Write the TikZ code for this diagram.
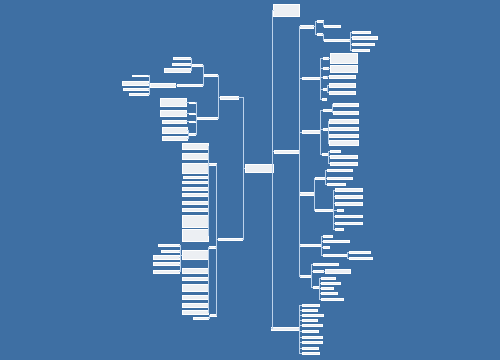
\documentclass[tikz,border=0pt]{standalone}
\definecolor{bgc}{RGB}{62,111,163}
\definecolor{lnc}{RGB}{188,210,235}
\definecolor{fillc}{RGB}{236,239,243}
\tikzset{
  box/.style={draw=white, line width=0.5pt, fill=fillc, inner sep=0pt, outer sep=0pt, anchor=north west, rectangle},
  conn/.style={draw=lnc, line width=0.8pt},
}
\newcommand\bx[5]{\pgfmathsetmacro\bw{#4-#2-0.5}\pgfmathsetmacro\bh{#5-#3-1.1}\node[box, minimum width=\bw pt, minimum height=\bh pt] (#1) at (#2+0.25,#3+0.55) {};}
\newcommand\rc[3]{\foreach \ch in {#3}{\draw[conn] (#1.east) -- ++(#2,0) |- (\ch.west);}}
\newcommand\lc[3]{\foreach \ch in {#3}{\draw[conn] (#1.west) -- ++(-#2,0) |- (\ch.east);}}
\begin{document}
\begin{tikzpicture}[x=1pt,y=-1pt]
\fill[bgc] (0,0) rectangle (500,360);
\useasboundingbox (0,0) rectangle (500,360);
% ---------- root
\bx{root}{245}{163.5}{273}{172.5}
% ---------- left side
\bx{L1}{220}{95.5}{238}{99.5}
\bx{L2}{218}{237.5}{242}{241}
\bx{C1}{204}{73.5}{217}{76.5}
\bx{C2}{197}{116.5}{217}{120}
\bx{B1}{192}{63.5}{202}{66.5}
\bx{X}{177}{83.5}{202}{86.5}
\bx{A1}{173}{56.5}{190}{59.5}
\bx{A2}{172}{63}{190}{66}
\bx{A3}{164}{68}{190}{73}
\bx{B3}{150}{82.5}{175}{87.5}
\bx{F1}{132}{74.5}{148}{77}
\bx{F2}{122}{80.5}{148}{85.5}
\bx{F3}{123}{88}{148}{91}
\bx{F4}{129}{92.5}{148}{95.5}
\bx{D1}{189}{101.5}{195}{104}
\bx{D2}{189}{112.5}{195}{115}
\bx{D3}{189}{120.5}{195}{123}
\bx{D4}{189}{133}{195}{135.5}
\bx{G1}{160}{97.5}{186}{107}
\bx{G2}{160}{110}{186}{117}
\bx{G3}{162}{119.5}{186}{124}
\bx{G4}{162}{127}{187}{133.5}
\bx{G5}{162}{135.5}{187}{140.5}
\bx{E1}{209}{162.5}{216}{165.5}
\bx{E2}{209}{246}{215}{249}
\bx{E3}{210}{313.5}{216}{316.5}
\bx{H1}{182}{142.5}{208}{150}
\bx{H2}{182}{152.5}{208}{160}
\bx{H3}{182}{162.5}{208}{173.5}
\bx{H4}{183}{175.5}{208}{178.5}
\bx{H5}{182}{180.5}{208}{184}
\bx{H6}{182}{186.5}{208}{191}
\bx{H7}{182}{193}{208}{197}
\bx{H8}{182}{200.5}{208}{205}
\bx{H9}{182}{207.5}{208}{212}
\bx{H10}{182}{214.5}{208}{227.5}
\bx{H11}{182}{229}{208}{242}
\bx{J1}{182}{250}{208}{260}
\bx{J2}{182}{268}{208}{273.5}
\bx{J3}{182}{276.5}{208}{281}
\bx{J4}{182}{284}{208}{292}
\bx{J5}{182}{294.5}{208}{300}
\bx{J6}{182}{303}{208}{307.5}
\bx{J7}{182}{310}{208}{314.5}
\bx{K1}{193}{316.5}{208}{319.5}
\bx{M1}{158}{244}{179}{247}
\bx{M2}{161}{249.5}{179}{252.5}
\bx{M3}{153}{254.5}{179}{259.5}
\bx{M4}{153}{262}{179}{266}
\bx{M5}{153}{269.5}{179}{273.5}
% ---------- right side
\bx{T0}{273}{4}{299}{17}
\bx{Rm}{274}{149.5}{299}{153.5}
\bx{RB}{271}{326.5}{299}{330.5}
\bx{R1}{300}{25}{313}{28.5}
\bx{R2}{302}{76.5}{320}{80}
\bx{R3}{302}{130}{320}{134}
\bx{R4}{300}{192}{314}{195.5}
\bx{R5}{300}{244}{321}{247}
\bx{R6}{300}{275}{311.5}{278}
\bx{R1a}{317}{20}{323}{23}
\bx{R1b}{317}{32.5}{322}{35.5}
\bx{P1}{324}{24.5}{340}{27.5}
\bx{P2}{324}{38.5}{349}{42}
\bx{Q1}{352}{30.5}{370}{33.5}
\bx{Q2}{352}{35.5}{377}{39.5}
\bx{Q3}{352}{42.5}{374}{45.5}
\bx{Q4}{352}{48.5}{369}{51.5}
\bx{s1}{323}{56.5}{328}{59.5}
\bx{s2}{323}{66.5}{328}{69.5}
\bx{s3}{323}{75.5}{327}{78.5}
\bx{s4}{323}{87.5}{327}{90.5}
\bx{s5}{322}{97.5}{326}{100.5}
\bx{N1}{330}{53}{357}{63.5}
\bx{N2}{330}{65}{357}{72.5}
\bx{N3}{329}{75}{355}{78.5}
\bx{N4}{329}{82.5}{355}{87.5}
\bx{N5}{329}{90.5}{355}{95}
\bx{t1}{323}{108.5}{332}{111.5}
\bx{t2}{323}{127.5}{328}{130.5}
\bx{t3}{322}{152.5}{328}{155.5}
\bx{U1}{333}{102.5}{358}{107}
\bx{U2}{333}{110.5}{358}{114.5}
\bx{U3}{329}{119}{358}{123.5}
\bx{U4}{329}{126.5}{358}{130.5}
\bx{U5}{329}{133.5}{358}{137.5}
\bx{U6}{329}{140}{358}{146}
\bx{U7}{330}{149.5}{340}{152.5}
\bx{U8}{330}{155}{357}{158.5}
\bx{U9}{330}{161.5}{357}{166}
\bx{u1}{315}{177}{325}{180}
\bx{u2}{315}{209}{333}{212}
\bx{V1}{327}{169}{352}{172}
\bx{V2}{327}{176.5}{352}{179.5}
\bx{V3}{327}{182.5}{345}{185.5}
\bx{W1}{335}{188}{362}{192}
\bx{W2}{335}{195}{362}{198.5}
\bx{W3}{335}{201.5}{362}{205.5}
\bx{W4}{337}{209}{343}{212}
\bx{W5}{335}{214.5}{362}{217.5}
\bx{W6}{335}{221.5}{362}{224.5}
\bx{W7}{335}{227.5}{343}{230.5}
\bx{v1}{323}{234.5}{332}{237.5}
\bx{v2}{323}{239.5}{349}{242.5}
\bx{v3}{323}{246}{329}{249}
\bx{v4}{323}{254}{347}{257}
\bx{Y1}{348.5}{250.5}{370}{253.5}
\bx{Y2}{348.5}{256.5}{372}{259.5}
\bx{w1}{313}{263}{338}{266}
\bx{w2}{313}{269.5}{323}{272.5}
\bx{w3}{313}{286}{319}{289}
\bx{Z0}{325}{268.5}{350}{273.5}
\bx{Z1}{321}{276.5}{335}{279.5}
\bx{Z2}{321}{281.5}{340}{284.5}
\bx{Z3}{321}{286.5}{333}{289.5}
\bx{Z4}{321}{291.5}{337}{294.5}
\bx{Z5}{321}{297.5}{343}{300.5}
\bx{b1}{302}{304}{319}{307}
\bx{b2}{302}{309}{317}{312}
\bx{b3}{302}{314}{323}{317}
\bx{b4}{302}{319}{317}{322}
\bx{b5}{302}{324}{322}{327}
\bx{b6}{302}{330}{318}{333}
\bx{b7}{302}{335.5}{322}{338.5}
\bx{b8}{302}{340.5}{322}{343.5}
\bx{b9}{302}{346.5}{318}{349.5}
\bx{b10}{302}{351.5}{319}{354.5}
% ---------- connectors, left
\lc{root}{2}{L1,L2}
\lc{L1}{2}{C1,C2}
\lc{C1}{1}{B1,X}
\lc{B1}{1}{A1,A2,A3}
\lc{X}{1}{B3}
\lc{B3}{1}{F1,F2,F3,F4}
\lc{C2}{1}{D1,D2,D3,D4}
\lc{D1}{1}{G1}
\lc{D2}{1}{G2}
\lc{D3}{1}{G3}
\lc{D4}{1}{G4,G5}
\lc{L2}{1.5}{E1,E2,E3}
\lc{E1}{0.5}{H1,H2,H3,H4,H5,H6,H7,H8,H9,H10,H11}
\lc{E2}{0.5}{J1,J2,J3,J4,J5,J6,J7}
\lc{E3}{1}{K1}
\lc{J1}{1.5}{M1,M2,M3,M4,M5}
% ---------- connectors, right
\rc{root}{0}{T0,Rm,RB}
\rc{Rm}{0.8}{R1,R2,R3,R4,R5,R6}
\rc{R1}{2.5}{R1a,R1b}
\rc{R1a}{0.5}{P1}
\rc{R1b}{1.5}{P2}
\rc{P2}{2}{Q1,Q2,Q3,Q4}
\rc{R2}{1}{s1,s2,s3,s4,s5}
\rc{s1}{1}{N1}
\rc{s2}{1}{N2}
\rc{s3}{1}{N3}
\rc{s4}{1}{N4,N5}
\rc{R3}{1}{t1,t2,t3}
\rc{t1}{0.5}{U1,U2}
\rc{t2}{0.5}{U3,U4,U5,U6}
\rc{t3}{1}{U7,U8,U9}
\rc{R4}{0.5}{u1,u2}
\rc{u1}{1}{V1,V2,V3}
\rc{u2}{1}{W1,W2,W3,W4,W5,W6,W7}
\rc{R5}{1}{v1,v2,v3,v4}
\rc{v4}{0.7}{Y1,Y2}
\rc{R6}{0.6}{w1,w2,w3}
\rc{w2}{1}{Z0}
\rc{w3}{1}{Z1,Z2,Z3,Z4,Z5}
\rc{RB}{1}{b1,b2,b3,b4,b5,b6,b7,b8,b9,b10}
\end{tikzpicture}
\end{document}
